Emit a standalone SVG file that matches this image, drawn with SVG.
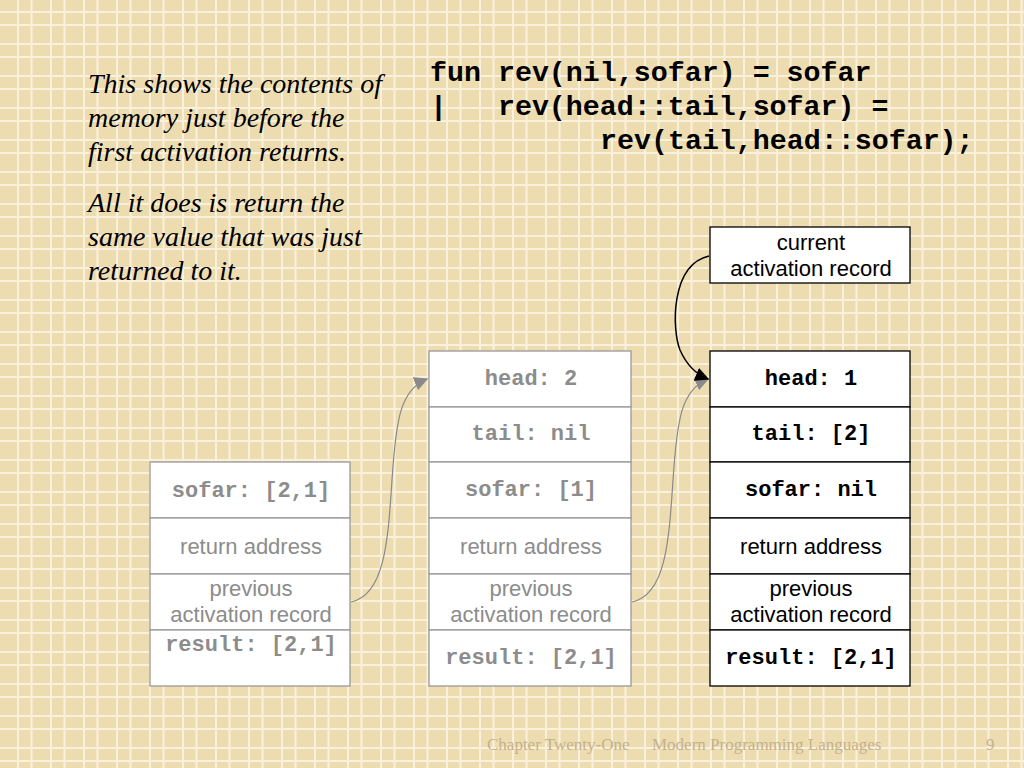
<svg xmlns="http://www.w3.org/2000/svg" width="1024" height="768" viewBox="0 0 1024 768">
<defs>
<pattern id="grid" x="0" y="0" width="33" height="32" patternUnits="userSpaceOnUse">
<rect width="33" height="32" fill="#eedcb1"/>
<rect x="17" y="0" width="2" height="32" fill="#faf1dc"/>
<rect x="30.5" y="0" width="2" height="32" fill="#faf1dc"/>
<rect x="0" y="11" width="33" height="2" fill="#faf1dc"/>
<rect x="0" y="24" width="33" height="2" fill="#faf1dc"/>
</pattern>
<marker id="ab" viewBox="0 0 10 10" refX="9" refY="5" markerWidth="14" markerHeight="14" orient="auto" markerUnits="userSpaceOnUse">
<path d="M0,0 L10,5 L0,10 z" fill="#000"/>
</marker>
<marker id="ag2" viewBox="0 0 10 10" refX="9" refY="5" markerWidth="14" markerHeight="14" orient="auto" markerUnits="userSpaceOnUse">
<path d="M0,0 L10,5 L0,10 z" fill="#8a8a8a"/>
</marker>
</defs>
<style>
.cell{fill:#fff;stroke-width:1.3}
.g .cell{stroke:#999}
.k .cell{stroke:#000}
.mono{font-family:"Liberation Mono","Courier New",monospace;font-weight:bold;font-size:22px;text-anchor:middle}
.sans{font-family:"Liberation Sans",Arial,sans-serif;font-size:22px;text-anchor:middle}
.g text{fill:#8c8c8c}
.k text{fill:#000}
.note{font-family:"Liberation Serif","Times New Roman",serif;font-style:italic;font-size:28px;fill:#000}
.code{font-family:"Liberation Mono","Courier New",monospace;font-weight:bold;font-size:28.3px;fill:#000;white-space:pre}
.foot{font-family:"Liberation Serif","Times New Roman",serif;font-size:17px;fill:#c4b18c}
</style>
<rect width="1024" height="768" fill="url(#grid)"/>

<g id="notes">
<text class="note" x="88" y="93">This shows the contents of</text>
<text class="note" x="88" y="127">memory just before the</text>
<text class="note" x="88" y="161">first activation returns.</text>
<text class="note" x="88" y="212">All it does is return the</text>
<text class="note" x="88" y="246">same value that was just</text>
<text class="note" x="88" y="280">returned to it.</text>
</g>

<g id="code">
<text class="code" x="430" y="81" xml:space="preserve">fun rev(nil,sofar) = sofar</text>
<text class="code" x="430" y="115" xml:space="preserve">|   rev(head::tail,sofar) =</text>
<text class="code" x="600" y="149" xml:space="preserve">rev(tail,head::sofar);</text>
</g>

<g id="ar1" class="g">
<rect class="cell" x="150" y="462" width="200" height="56"/>
<rect class="cell" x="150" y="518" width="200" height="56"/>
<rect class="cell" x="150" y="574" width="200" height="56"/>
<rect class="cell" x="150" y="630" width="200" height="56"/>
<text class="mono" x="251" y="497">sofar: [2,1]</text>
<text class="sans" x="251" y="554">return address</text>
<text class="sans" x="251" y="596">previous</text>
<text class="sans" x="251" y="622">activation record</text>
<text class="mono" x="251" y="651">result: [2,1]</text>
</g>

<g id="ar2" class="g">
<rect class="cell" x="429" y="351" width="202" height="56"/>
<rect class="cell" x="429" y="407" width="202" height="55"/>
<rect class="cell" x="429" y="462" width="202" height="56"/>
<rect class="cell" x="429" y="518" width="202" height="56"/>
<rect class="cell" x="429" y="574" width="202" height="56"/>
<rect class="cell" x="429" y="630" width="202" height="56"/>
<text class="mono" x="531" y="385">head: 2</text>
<text class="mono" x="531" y="440">tail: nil</text>
<text class="mono" x="531" y="496">sofar: [1]</text>
<text class="sans" x="531" y="554">return address</text>
<text class="sans" x="531" y="596">previous</text>
<text class="sans" x="531" y="622">activation record</text>
<text class="mono" x="531" y="664">result: [2,1]</text>
</g>

<g id="ar3" class="k">
<rect class="cell" x="710" y="351" width="200" height="56"/>
<rect class="cell" x="710" y="407" width="200" height="55"/>
<rect class="cell" x="710" y="462" width="200" height="56"/>
<rect class="cell" x="710" y="518" width="200" height="56"/>
<rect class="cell" x="710" y="574" width="200" height="56"/>
<rect class="cell" x="710" y="630" width="200" height="56"/>
<text class="mono" x="811" y="385">head: 1</text>
<text class="mono" x="811" y="440">tail: [2]</text>
<text class="mono" x="811" y="496">sofar: nil</text>
<text class="sans" x="811" y="554">return address</text>
<text class="sans" x="811" y="596">previous</text>
<text class="sans" x="811" y="622">activation record</text>
<text class="mono" x="811" y="664">result: [2,1]</text>
</g>

<g id="current" class="k">
<rect class="cell" x="710" y="227" width="200" height="56"/>
<text class="sans" x="811" y="250">current</text>
<text class="sans" x="811" y="276">activation record</text>
</g>

<g id="connectors" fill="none">
<path d="M351,602 C385,595 388,540 392,480 C396,420 400,390 427,379" stroke="#8a8a8a" stroke-width="1.2" marker-end="url(#ag2)"/>
<path d="M632,602 C666,595 669,540 673,480 C677,420 681,390 708,379" stroke="#8a8a8a" stroke-width="1.2" marker-end="url(#ag2)"/>
<path d="M709,256 C670,265 672,330 680,350 C688,368 698,375 708,379" stroke="#000" stroke-width="1.5" marker-end="url(#ab)"/>
</g>

<g id="footer">
<text class="foot" x="487" y="750">Chapter Twenty-One</text>
<text class="foot" x="652" y="750">Modern Programming Languages</text>
<text class="foot" x="986" y="750">9</text>
</g>
</svg>
